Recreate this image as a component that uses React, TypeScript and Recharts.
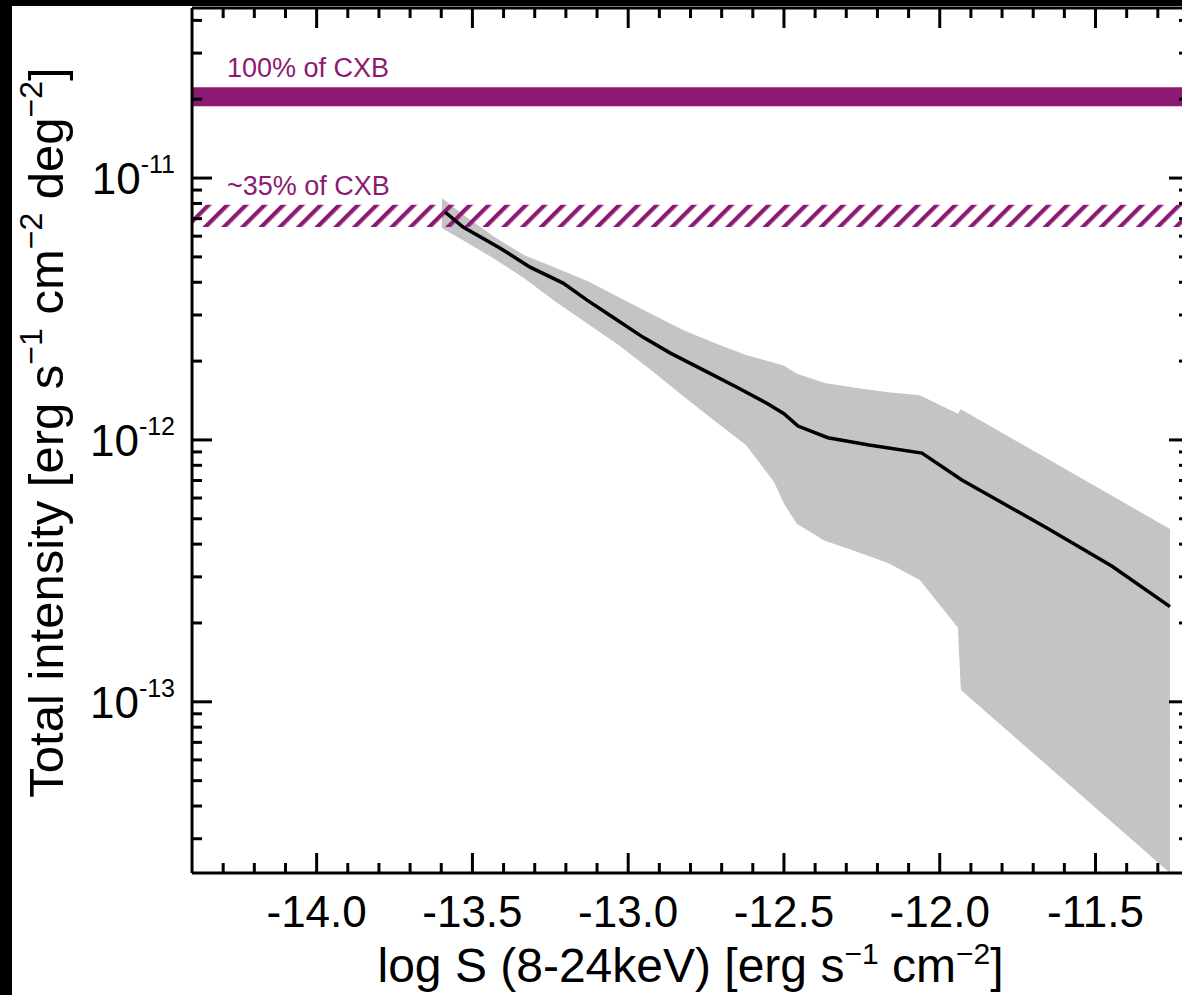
import { ComposedChart, Area, Line, XAxis, YAxis, ReferenceArea } from 'recharts';

// grey confidence band
const bandX = [-13.598, -13.537, -13.434, -13.335, -13.232, -13.129, -13.03, -12.927, -12.824, -12.725, -12.622, -12.532, -12.5, -12.458, -12.369, -12.266, -12.166, -12.064, -11.942, -11.932, -11.261];
const bandHigh = [8.39e-12, 7.35e-12, 6.01e-12, 5.08e-12, 4.53e-12, 4.04e-12, 3.51e-12, 3.03e-12, 2.63e-12, 2.35e-12, 2.11e-12, 1.97e-12, 1.92e-12, 1.79e-12, 1.65e-12, 1.58e-12, 1.52e-12, 1.48e-12, 1.26e-12, 1.31e-12, 4.57e-13];
const bandLow = [6.45e-12, 5.85e-12, 4.95e-12, 4.15e-12, 3.36e-12, 2.77e-12, 2.3e-12, 1.85e-12, 1.47e-12, 1.19e-12, 9.57e-13, 6.91e-13, 5.7e-13, 4.78e-13, 4.12e-13, 3.74e-13, 3.39e-13, 2.92e-13, 1.92e-13, 1.11e-13, 2.22e-14];

// black curve
const lineX = [-13.588, -13.53, -13.412, -13.315, -13.209, -13.132, -13.049, -12.953, -12.866, -12.747, -12.651, -12.555, -12.5, -12.455, -12.359, -12.227, -12.057, -11.929, -11.656, -11.448, -11.261];
const lineY = [7.42e-12, 6.5e-12, 5.41e-12, 4.57e-12, 3.97e-12, 3.42e-12, 2.94e-12, 2.47e-12, 2.15e-12, 1.82e-12, 1.59e-12, 1.38e-12, 1.26e-12, 1.13e-12, 1.02e-12, 9.57e-13, 8.91e-13, 7.03e-13, 4.61e-13, 3.3e-13, 2.31e-13];

// CXB levels [low, high]
const cxbFull = [1.88e-11, 2.22e-11];
const cxb35 = [6.5e-12, 7.9e-12];

const xDomain = [-14.4, -11.2];
const yDomain = [2.22e-14, 4.46e-11];

const xMajorTicks = [-14.0, -13.5, -13.0, -12.5, -12.0, -11.5];
const xMinorTicks = [-14.3, -14.2, -14.1, -13.9, -13.8, -13.7, -13.6, -13.4, -13.3, -13.2, -13.1, -12.9, -12.8, -12.7, -12.6, -12.4, -12.3, -12.2, -12.1, -11.9, -11.8, -11.7, -11.6, -11.4, -11.3];
const yMajorTicks = [1e-13, 1e-12, 1e-11];
const yMinorTicks = [3e-14, 4e-14, 5e-14, 6e-14, 7e-14, 8e-14, 9e-14, 2e-13, 3e-13, 4e-13, 5e-13, 6e-13, 7e-13, 8e-13, 9e-13, 2e-12, 3e-12, 4e-12, 5e-12, 6e-12, 7e-12, 8e-12, 9e-12, 2e-11, 3e-11, 4e-11];

const PURPLE = '#8c1a72';
const FONT = '"Liberation Sans", Arial, sans-serif';
const THIN = 0.01; // axes need a non-zero box to render

const bandData = bandX.map((x, i) => ({ x, low: bandLow[i], high: bandHigh[i] }));
const lineData = lineX.map((x, i) => ({ x, y: lineY[i] }));

const noTick = () => <g />;

function XTick({ x, y, payload }: any) {
  return (
    <text x={x} y={y} textAnchor="middle" fontFamily={FONT} fontSize={44} fill="#000">
      {payload.value.toFixed(1)}
    </text>
  );
}

function YTick({ x, y, payload }: any) {
  const exp = Math.round(Math.log10(payload.value));
  return (
    <text x={x} y={y + 16} textAnchor="end" fontFamily={FONT} fill="#000">
      <tspan fontSize={44}>10</tspan>
      <tspan fontSize={25} dy={-21}>{String(exp)}</tspan>
    </text>
  );
}

function XTitle({ viewBox }: any) {
  const cx = viewBox.x + viewBox.width / 2;
  return (
    <text x={cx} y={viewBox.y + 109} textAnchor="middle" fontFamily={FONT} fontSize={48} fill="#000">
      <tspan>log S (8-24keV) [erg s</tspan>
      <tspan fontSize={30} dy={-18}>−1</tspan>
      <tspan dy={18}> cm</tspan>
      <tspan fontSize={30} dy={-18}>−2</tspan>
      <tspan dy={18}>]</tspan>
    </text>
  );
}

function YTitle({ viewBox }: any) {
  const tx = 63;
  const ty = viewBox.y + viewBox.height / 2 - 8;
  return (
    <text x={tx} y={ty} transform={`rotate(-90, ${tx}, ${ty})`} textAnchor="middle" fontFamily={FONT} fontSize={49} fill="#000">
      <tspan>Total intensity [erg s</tspan>
      <tspan fontSize={32} dy={-21}>−1</tspan>
      <tspan dy={21}> cm</tspan>
      <tspan fontSize={32} dy={-21}>−2</tspan>
      <tspan dy={21}> deg</tspan>
      <tspan fontSize={32} dy={-21}>−2</tspan>
      <tspan dy={21}>]</tspan>
    </text>
  );
}

const cxbLabel = (text: string) => (props: any) => {
  const vb = props.viewBox;
  return (
    <text x={vb.x + 35} y={vb.y - 10} fontFamily={FONT} fontSize={27} fill={PURPLE}>
      {text}
    </text>
  );
};

const axisLine = { stroke: '#000', strokeWidth: 3 };
const tickLine = { stroke: '#000', strokeWidth: 3 };

export default function App() {
  return (
    <div style={{ position: 'absolute', left: 0, top: 0, width: 1182, height: 995, overflow: 'hidden', background: '#000' }}>
      <div style={{ position: 'absolute', left: 12, top: 6, right: 0, bottom: 0, background: '#fff' }} />
      <div style={{ position: 'absolute', left: 0, top: 0 }}>
        <ComposedChart width={1200} height={995} margin={{ top: 8, right: 11, bottom: 122, left: 192 }}>
          <defs>
            <pattern id="hatch" width={13.2} height={13.2} patternUnits="userSpaceOnUse" patternTransform="rotate(45)">
              <rect x={0} y={0} width={4.2} height={13.2} fill={PURPLE} />
            </pattern>
          </defs>

          <XAxis xAxisId="x" dataKey="x" type="number" domain={xDomain} allowDataOverflow ticks={xMajorTicks} interval={0}
            height={THIN} tickSize={-20} tickMargin={74} axisLine={axisLine} tickLine={tickLine} tick={<XTick />}
            label={(p: any) => <XTitle {...p} />} />
          <XAxis xAxisId="xm" dataKey="x" type="number" domain={xDomain} allowDataOverflow ticks={xMinorTicks} interval={0}
            height={THIN} tickSize={-10} axisLine={false} tickLine={tickLine} tick={noTick} />
          <XAxis xAxisId="xt" orientation="top" dataKey="x" type="number" domain={xDomain} allowDataOverflow ticks={xMajorTicks} interval={0}
            height={THIN} tickSize={-20} axisLine={axisLine} tickLine={tickLine} tick={noTick} />
          <XAxis xAxisId="xtm" orientation="top" dataKey="x" type="number" domain={xDomain} allowDataOverflow ticks={xMinorTicks} interval={0}
            height={THIN} tickSize={-10} axisLine={false} tickLine={tickLine} tick={noTick} />

          <YAxis yAxisId="y" type="number" scale="log" domain={yDomain} allowDataOverflow ticks={yMajorTicks} interval={0}
            width={THIN} tickSize={-20} tickMargin={37} axisLine={axisLine} tickLine={tickLine} tick={<YTick />}
            label={(p: any) => <YTitle {...p} />} />
          <YAxis yAxisId="ym" type="number" scale="log" domain={yDomain} allowDataOverflow ticks={yMinorTicks} interval={0}
            width={THIN} tickSize={-10} axisLine={false} tickLine={tickLine} tick={noTick} />
          <YAxis yAxisId="yr" orientation="right" type="number" scale="log" domain={yDomain} allowDataOverflow ticks={yMajorTicks} interval={0}
            width={THIN} tickSize={-20} axisLine={axisLine} tickLine={tickLine} tick={noTick} />
          <YAxis yAxisId="yrm" orientation="right" type="number" scale="log" domain={yDomain} allowDataOverflow ticks={yMinorTicks} interval={0}
            width={THIN} tickSize={-10} axisLine={false} tickLine={tickLine} tick={noTick} />

          <Area xAxisId="x" yAxisId="y" data={bandData} dataKey={(d: any) => [d.low, d.high]} type="linear"
            stroke="none" fill="#c4c4c4" fillOpacity={1} isAnimationActive={false} />

          <ReferenceArea xAxisId="x" yAxisId="y" y1={cxbFull[0]} y2={cxbFull[1]} fill={PURPLE} fillOpacity={1} stroke="none"
            label={cxbLabel('100% of CXB')} />
          <ReferenceArea xAxisId="x" yAxisId="y" y1={cxb35[0]} y2={cxb35[1]} fill="url(#hatch)" fillOpacity={1} stroke="none"
            label={cxbLabel('~35% of CXB')} />

          <Line xAxisId="x" yAxisId="y" data={lineData} dataKey="y" type="linear" stroke="#000" strokeWidth={3.5}
            dot={false} isAnimationActive={false} />
        </ComposedChart>
      </div>
    </div>
  );
}
